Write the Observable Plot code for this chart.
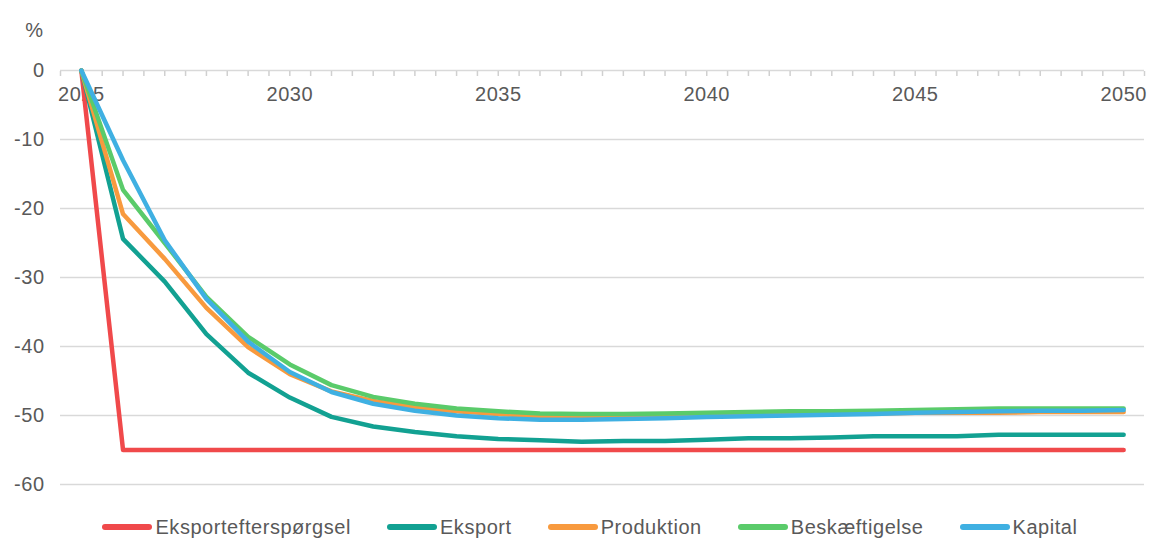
<!DOCTYPE html>
<html><head><meta charset="utf-8">
<script src="https://cdn.jsdelivr.net/npm/d3@7"></script>
<script src="https://cdn.jsdelivr.net/npm/@observablehq/plot@0.6"></script>
<style>
body{margin:0;background:#fff;font-family:"Liberation Sans",Arial,sans-serif;}
#legend{display:flex;justify-content:center;align-items:center;height:34px;padding-left:30px;font-size:20px;letter-spacing:0.55px;color:#595959;}
.item{display:flex;align-items:center;margin:0 18px;}
.sw{width:50px;height:6px;border-radius:3px;margin-right:3px;}
</style></head><body><div id="chart"></div><div id="legend"></div>
<script>
const years = [2025,2026,2027,2028,2029,2030,2031,2032,2033,2034,2035,2036,2037,2038,2039,2040,2041,2042,2043,2044,2045,2046,2047,2048,2049,2050];
const seriesNames = ["Eksportefterspørgsel","Eksport","Produktion","Beskæftigelse","Kapital"];
const colors = ["#f0494b","#12a192","#f89a3e","#5acb6a","#3fb0e2"];
const eksportefterspoergsel = [0,-55,-55,-55,-55,-55,-55,-55,-55,-55,-55,-55,-55,-55,-55,-55,-55,-55,-55,-55,-55,-55,-55,-55,-55,-55];
const eksport = [0,-24.4,-30.6,-38.2,-43.8,-47.4,-50.2,-51.6,-52.4,-53.0,-53.4,-53.6,-53.8,-53.7,-53.7,-53.5,-53.3,-53.3,-53.2,-53.0,-53.0,-53.0,-52.8,-52.8,-52.8,-52.8];
const produktion = [0,-20.8,-27.3,-34.4,-40.1,-44.0,-46.5,-47.9,-48.8,-49.4,-49.8,-50.1,-50.2,-50.2,-50.1,-50.0,-49.9,-49.8,-49.8,-49.7,-49.6,-49.6,-49.6,-49.5,-49.5,-49.5];
const beskaeftigelse = [0,-17.3,-25.0,-32.8,-38.6,-42.6,-45.6,-47.3,-48.3,-49.0,-49.4,-49.7,-49.8,-49.8,-49.7,-49.6,-49.5,-49.4,-49.4,-49.3,-49.2,-49.1,-49.0,-49.0,-49.0,-49.0];
const kapital = [0,-13.0,-24.6,-33.1,-39.3,-43.7,-46.6,-48.3,-49.3,-50.0,-50.4,-50.6,-50.6,-50.5,-50.4,-50.2,-50.1,-50.0,-49.9,-49.8,-49.6,-49.5,-49.4,-49.3,-49.3,-49.2];
const yTicks = [0,-10,-20,-30,-40,-50,-60];
const xLabelYears = [2025,2030,2035,2040,2045,2050];
const xTickPositions = [2024.5,2025,2025.5,2026,2026.5,2027,2027.5,2028,2028.5,2029,2029.5,2030,2030.5,2031,2031.5,2032,2032.5,2033,2033.5,2034,2034.5,2035,2035.5,2036,2036.5,2037,2037.5,2038,2038.5,2039,2039.5,2040,2040.5,2041,2041.5,2042,2042.5,2043,2043.5,2044,2044.5,2045,2045.5,2046,2046.5,2047,2047.5,2048,2048.5,2049,2049.5,2050,2050.5];

const allSeries = [eksportefterspoergsel, eksport, produktion, beskaeftigelse, kapital];
const data = [];
allSeries.forEach((vals, i) => vals.forEach((v, j) => data.push({series: seriesNames[i], year: years[j], value: v})));

const chart = Plot.plot({
  width: 1150, height: 510,
  marginTop: 70, marginBottom: 26, marginLeft: 60, marginRight: 6,
  x: {domain: [2024.5, 2050.5]},
  y: {domain: [-60, 0]},
  color: {domain: seriesNames, range: colors},
  style: {fontFamily: '"Liberation Sans", Arial, sans-serif', fontSize: "20px", color: "#595959", letterSpacing: "0.5px", background: "#fff"},
  marks: [
    Plot.ruleY(yTicks, {stroke: "#d9d9d9", strokeWidth: 1.5}),
    Plot.axisY({ticks: yTicks, tickSize: 0, tickPadding: 16, label: null, tickFormat: d => String(d), fill: "#595959", fontSize: 20}),
    Plot.axisX({anchor: "top", ticks: xTickPositions, tickSize: -5, stroke: "#d0d0d0", strokeWidth: 1.5, text: null, label: null}),
    Plot.axisX({anchor: "top", ticks: xLabelYears, tickSize: 0, tickPadding: -30, tickFormat: d => String(d), label: null, fill: "#595959", fontSize: 20}),
    Plot.text(["%"], {frameAnchor: "top-left", dx: -17, dy: -48, textAnchor: "end", fill: "#595959", fontSize: 20}),
    Plot.line(data, {x: "year", y: "value", z: "series", stroke: "series", strokeWidth: 4.5, strokeLinecap: "round", strokeLinejoin: "round"})
  ]
});
document.getElementById("chart").appendChild(chart);

const legend = document.getElementById("legend");
seriesNames.forEach((name, i) => {
  const item = document.createElement("div");
  item.className = "item";
  const sw = document.createElement("div");
  sw.className = "sw";
  sw.style.background = colors[i];
  const label = document.createElement("span");
  label.textContent = name;
  item.appendChild(sw); item.appendChild(label);
  legend.appendChild(item);
});
</script></body></html>
